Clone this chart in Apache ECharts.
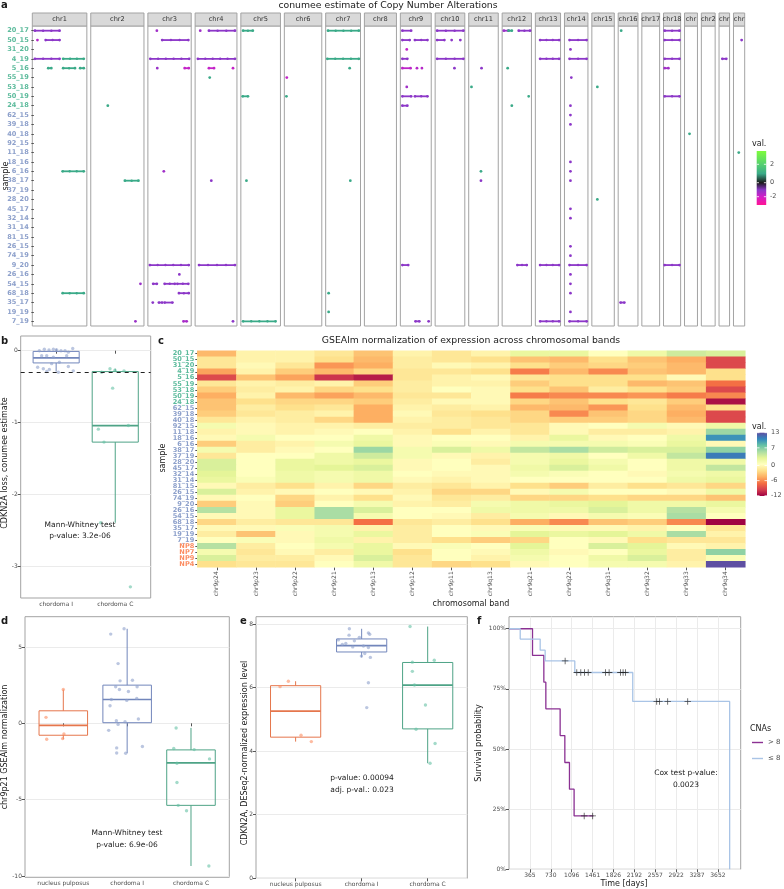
<!DOCTYPE html>
<html><head><meta charset="utf-8">
<script src="https://cdn.jsdelivr.net/npm/echarts@6/dist/echarts.min.js"></script>
<style>html,body{margin:0;padding:0;background:#fff}#chart{width:784px;height:889px}</style>
</head><body><div id="chart"></div>
<script>
const FONT = 'DejaVu Sans';
// ---------------- DATA ----------------
const cnaSamples = ['20_17','50_15','31_20','4_19','5_16','55_19','53_18','50_19','24_18','62_15','39_18','40_18','92_15','11_18','18_16','6_16','38_17','37_19','28_20','45_17','32_14','31_14','81_15','26_15','74_19','9_20','26_16','54_15','68_18','35_17','19_19','7_19'];
const npSamples = ['NP8','NP7','NP9','NP4'];
const chromosomes = ['chr1','chr2','chr3','chr4','chr5','chr6','chr7','chr8','chr9','chr10','chr11','chr12','chr13','chr14','chr15','chr16','chr17','chr18','chr19','chr20','chr21','chr22'];
const chromLenMb = [249.25,243.2,198.0,191.15,180.9,171.1,159.1,146.4,141.2,135.5,135.0,133.85,115.2,107.35,102.5,90.35,81.2,78.1,59.1,63.0,48.1,51.3];
// [chromosome, sample, start (fraction), end (fraction), value]
const cnaSegments = [
 ['chr1','20_17',0.02,0.50,-1],['chr1','50_15',0.07,0.07,-1.6],['chr1','50_15',0.23,0.50,-1],
 ['chr1','4_19',0.02,0.50,-1],['chr1','4_19',0.57,0.97,1],['chr1','5_16',0.28,0.34,1],
 ['chr1','5_16',0.57,0.80,1],['chr1','5_16',0.90,0.97,1],['chr1','6_16',0.56,0.97,1],['chr1','68_18',0.56,0.97,1],
 ['chr2','24_18',0.31,0.31,1],['chr2','38_17',0.65,0.92,1],['chr2','54_15',0.96,0.96,-1.2],['chr2','7_19',0.86,0.86,-1.2],
 ['chr3','20_17',0.19,0.19,-1.3],['chr3','50_15',0.32,0.96,-1],['chr3','4_19',0.03,0.98,-1],['chr3','5_16',0.2,0.2,-1.2],
 ['chr3','5_16',0.87,0.97,-1.8],['chr3','6_16',0.36,0.36,-1.3],['chr3','9_20',0.02,0.97,-1],['chr3','26_16',0.74,0.74,-1],
 ['chr3','54_15',0.1,0.19,-1],['chr3','54_15',0.38,0.63,-1],['chr3','54_15',0.69,0.96,-1],['chr3','68_18',0.73,0.97,-1],
 ['chr3','35_17',0.09,0.09,-1],['chr3','35_17',0.24,0.32,-1],['chr3','35_17',0.38,0.57,-1],['chr3','7_19',0.84,0.92,-1.4],
 ['chr4','20_17',0.1,0.1,-1.3],['chr4','20_17',0.32,0.98,-1],['chr4','4_19',0.04,0.98,-1],['chr4','5_16',0.32,0.45,-1.8],
 ['chr4','5_16',0.93,0.93,-1.8],['chr4','55_19',0.34,0.34,1],['chr4','38_17',0.38,0.38,-1],['chr4','9_20',0.07,0.98,-1],['chr4','7_19',0.93,0.93,-1],
 ['chr5','20_17',0.03,0.29,1],['chr5','50_19',0.02,0.16,1],['chr5','38_17',0.12,0.12,1],['chr5','7_19',0.03,0.9,1],
 ['chr6','55_19',0.04,0.04,-1.8],['chr6','50_19',0.03,0.03,1],
 ['chr7','20_17',0.04,0.98,1],['chr7','4_19',0.02,0.98,1],['chr7','5_16',0.70,0.70,1],['chr7','38_17',0.72,0.72,1],
 ['chr7','68_18',0.06,0.06,1],['chr7','19_19',0.06,0.06,1],
 ['chr9','20_17',0.04,0.34,-1],['chr9','50_15',0.04,0.29,-1],['chr9','50_15',0.47,0.90,-1],['chr9','31_20',0.19,0.19,-1.8],
 ['chr9','4_19',0.04,0.21,-1],['chr9','5_16',0.04,0.32,-1.7],['chr9','5_16',0.54,0.54,-1.6],['chr9','5_16',0.71,0.71,-1.6],
 ['chr9','53_18',0.19,0.19,-1.3],['chr9','50_19',0.04,0.34,-1],['chr9','50_19',0.47,0.90,-1],['chr9','24_18',0.04,0.21,-1],
 ['chr9','9_20',0.04,0.24,-1],['chr9','7_19',0.49,0.62,-1],['chr9','7_19',0.94,0.94,-1],
 ['chr10','20_17',0.04,0.98,-1],['chr10','50_15',0.04,0.30,-1],['chr10','50_15',0.56,0.56,-1],['chr10','50_15',0.87,0.87,-1],
 ['chr10','4_19',0.04,0.98,-1],['chr10','5_16',0.66,0.66,-1],
 ['chr11','5_16',0.43,0.43,-1],['chr11','53_18',0.07,0.07,1],['chr11','6_16',0.41,0.41,1],['chr11','38_17',0.41,0.41,-1],
 ['chr12','20_17',0.03,0.2,-1.2],['chr12','20_17',0.2,0.32,1],['chr12','20_17',0.57,0.98,-1],['chr12','5_16',0.17,0.17,1],
 ['chr12','50_19',0.93,0.93,1],['chr12','24_18',0.32,0.32,1],['chr12','9_20',0.52,0.86,-1],
 ['chr13','50_15',0.17,0.97,-1],['chr13','4_19',0.17,0.97,-1],['chr13','9_20',0.17,0.97,-1],['chr13','7_19',0.17,0.97,-1],
 ['chr14','50_15',0.2,0.97,-1],['chr14','31_20',0.24,0.24,-1],['chr14','4_19',0.2,0.97,-1],['chr14','55_19',0.28,0.28,-1],
 ['chr14','24_18',0.24,0.24,-1],['chr14','62_15',0.24,0.24,-1],['chr14','39_18',0.24,0.24,-1],['chr14','18_16',0.24,0.24,-1],
 ['chr14','6_16',0.24,0.24,-1],['chr14','38_17',0.24,0.24,-1],['chr14','45_17',0.24,0.24,-1],['chr14','32_14',0.24,0.24,-1],
 ['chr14','26_15',0.24,0.24,-1],['chr14','74_19',0.24,0.24,-1],['chr14','9_20',0.2,0.97,-1],['chr14','26_16',0.24,0.24,-1],
 ['chr14','54_15',0.24,0.24,-1],['chr14','68_18',0.24,0.24,-1],['chr14','19_19',0.24,0.24,-1],['chr14','7_19',0.2,0.97,-1],
 ['chr15','53_18',0.23,0.23,1],['chr15','28_20',0.23,0.23,1],
 ['chr16','20_17',0.13,0.13,1],['chr16','35_17',0.1,0.3,-1],
 ['chr18','20_17',0.04,0.96,-1],['chr18','50_15',0.04,0.96,-1],['chr18','4_19',0.04,0.96,-1],['chr18','5_16',0.04,0.27,-1.3],
 ['chr18','50_19',0.04,0.96,-1],['chr18','9_20',0.04,0.96,-1],
 ['chr19','40_18',0.38,0.38,1],
 ['chr21','4_19',0.3,0.7,-1],
 ['chr22','50_15',0.74,0.74,-1],['chr22','11_18',0.47,0.47,1]
];
const cnaColorStops = ['#ff1493','#d21fc8','#8c37c8','#1a1a1a','#3aaa88','#55d070','#7dfc3c'];

const bands = ['chr9p24','chr9p23','chr9p22','chr9p21','chr9p13','chr9p12','chr9p11','chr9q13','chr9q21','chr9q22','chr9q31','chr9q32','chr9q33','chr9q34'];
const heatSamples = cnaSamples.concat(npSamples);
const heatValues = [
 [-4,-0.5,-0.5,-1.5,-3.5,-0.5,-1.5,-0.5,2.5,2.5,0.5,2,4,3.5],
 [-1.5,-0.5,-0.5,-2,-4,-1,-1.5,-2,-3.5,-4,-2,-3.5,-4.5,-9],
 [-1.5,0,-1.5,-5.5,-4.5,-1,0,-0.5,-2,-3,-2.5,-3,-4,-9],
 [-5,-0.5,-3,-4,-2.5,-1.5,-1.5,-2,-6.5,-4,-6,-3.5,-4,-2],
 [-9,-3.5,-5,-10,-11,-1.5,-0.5,0,-1.5,-2,-2,-2,0,-2],
 [-1.5,-0.5,-1,-0.5,-3,-1,-0.5,-0.5,-3,-2,-2,-4,-3.5,-7],
 [-3,-1,-0.5,-2.5,-2,-1,0.5,0,-2,-3.5,-1,-2,-3,-9],
 [-4.5,-0.5,-4,-5,-4,-1.5,-1.5,0,-6.5,-6,-6,-5.5,-6.5,-6],
 [-3.5,-2,-2.5,-2.5,-3,-1,0,0,-2.5,-3.5,-2,-1.5,-3,-11.5],
 [-3.5,-1,-2,-1.5,-4.5,-0.5,-1,-0.5,-4,-4,-5.5,-2,-4,-2],
 [-3,-1.5,-1,-0.5,-4.5,0,-1.5,-2,-2.5,-6,-3.5,-2.5,-4.5,-9],
 [-1.5,-0.5,-1,-2.5,-4.5,-0.5,-1,-1.5,-2.5,-3,-3,-2.5,-4,-9],
 [1.5,0,-0.5,-0.5,-1,-1,-1,-1.5,-1.5,0,0.5,1.5,0,2],
 [-0.5,0,-0.5,0,0.5,-0.5,-2,-0.5,-1.5,0,-1,-1,-0.5,6],
 [0,1.5,0.5,0.5,2,0,0.5,0.5,-0.5,2.5,0,0.5,2,10],
 [-3,-1,-0.5,1.5,2.5,0,1,0,1.5,1.5,1.5,1,2.5,0],
 [1.5,-1,0,0.5,6,1.5,3.5,2,4.5,5.5,4,3.5,3.5,6.5],
 [-1.5,0.5,0.5,2,4,1.5,0,-0.5,1.5,2,0.5,2,4.5,11],
 [3.5,0.5,2.5,2,2.5,0,0.5,-1,1.5,2.5,1.5,0.5,2,2],
 [3.5,0.5,2.5,3,3.5,0,0.5,0,2,3.5,2,0.5,2,4.5],
 [3,0.5,2,1.5,2,0.5,0,0,1.5,1,0.5,0,1.5,2],
 [2.5,1,2,1.5,2,0,-0.5,0,0.5,0.5,0.5,0.5,2,2.5],
 [0,-1,-2,-0.5,-2.5,-1,-1.5,-0.5,-2,-3,-1,-2,-1.5,-2.5],
 [3.5,-0.5,0,0.5,0,-0.5,-2.5,-2.5,0,1.5,0.5,0.5,0,2],
 [0,0.5,-2.5,-0.5,-2,0,-1.5,-1,-2.5,-2.5,-2,-2.5,-2.5,-3.5],
 [-3,0,-3,0.5,1.5,-0.5,-1,1.5,2,2.5,3,2,2,2.5],
 [5,0,2.5,5.5,3.5,0.5,0.5,2,2,2,3.5,2,5,1.5],
 [0,0,2.5,5.5,1.5,0.5,0,-1,1.5,0,1.5,1,5.5,0.5],
 [-2.5,-1,-1.5,-1.5,-7,-1.5,-1,-2,-4.5,-6,-3.5,-3,-6,-12],
 [0,0,1,1.5,-0.5,-1,0.5,0,1,0,0,-0.5,0.5,-1.5],
 [-1,-3.5,0,1.5,2.5,-1,0.5,1,3,2.5,3,2,5.5,-0.5],
 [0.5,1,0,2,-0.5,-1,-2,-3,-2.5,0.5,0,-2,-1.5,-1.5],
 [5,-1,0.5,1.5,2.5,0,1,0.5,3,0.5,3.5,3,0,-0.5],
 [1.5,-1.5,0,-1,2.5,-2,0.5,0,2,0,0.5,2.5,-1,6.5],
 [3.5,-1,-1,0,3.5,-1.5,0.5,-0.5,1.5,0.5,2,3.5,-1,1],
 [-2,-1.5,-1.5,0.5,2,-1.5,-2.5,-2,0,0.5,1.5,1.5,-0.5,13]
];
const spectral = ['#9e0142','#d53e4f','#f46d43','#fdae61','#fee08b','#ffffbf','#e6f598','#abdda4','#66c2a5','#3288bd','#5e4fa2'];
const heatLegendTicks = [13,7,0,-6,-12];

// panel b
const bGroups = ['chordoma I','chordoma C'];
const bBoxes = [[-0.29,-0.17,-0.10,-0.01,0.03],[-2.39,-1.27,-1.04,-0.29,-0.25]]; // min,q1,med,q3,max
const bPointsI = [[0.715,0],[0.8,0.02],[0.879,0.01],[0.953,0.02],[1.01,0.01],[1.082,0],[1.15,0],[1.206,-0.02],[1.28,0.03],[0.755,-0.07],[0.84,-0.07],[0.953,-0.09],[1.178,-0.07],[0.924,-0.18],[1.054,-0.16],[0.687,-0.23],[0.783,-0.25],[0.885,-0.26],[1.206,-0.22],[0.84,-0.29],[1.037,-0.3],[1.29,-0.28]];
const bPointsC = [[1.911,-0.25],[1.995,-0.27],[1.77,-0.3],[2.148,-0.28],[1.956,-0.52],[2.222,-1.04],[1.714,-1.09],[1.81,-1.27],[1.753,-2.39],[2.256,-3.28]];
const bThreshold = -0.3;
const bTicks = [-3,-2,-1,0];

// panel d
const groups3 = ['nucleus pulposus','chordoma I','chordoma C'];
const dBoxes = [[-1.04,-0.78,-0.13,0.82,2.21],[-1.95,0.04,1.56,2.5,6.19],[-9.34,-5.37,-2.59,-1.74,-0.3]];
const dPointsNP = [[0.729,0.39],[1.0,2.21],[1.01,-0.7],[0.74,-1.04],[0.99,-1.0]];
const dPointsI = [[1.952,6.19],[1.743,5.84],[1.858,3.91],[1.889,2.78],[2.083,2.82],[1.82,2.39],[2.156,2.39],[1.879,2.21],[2.02,2.08],[1.753,1.56],[2.15,1.63],[1.994,1.5],[1.732,1.15],[1.831,0.17],[1.967,0.1],[2.176,0.28],[1.858,-0.07],[1.711,-0.46],[1.836,-1.61],[2.239,-1.52],[1.836,-1.94],[1.977,-1.96]];
const dPointsC = [[2.767,-0.31],[2.73,-1.65],[3.05,-1.72],[3.29,-2.33],[2.78,-2.61],[2.78,-3.87],[2.8,-5.37],[2.93,-5.72],[3.28,-9.34]];
const dTicks = [-10,-5,0,5];

// panel e
const eBoxes = [[4.3,4.44,5.26,6.06,6.2],[6.95,7.12,7.32,7.53,7.85],[3.62,4.7,6.08,6.79,7.92]];
const ePointsNP = [[0.89,6.2],[0.764,6.03],[1.082,4.5],[1.238,4.3]];
const ePointsI = [[1.814,7.85],[2.102,7.72],[1.809,7.65],[2.122,7.68],[1.965,7.58],[1.647,7.5],[1.89,7.47],[1.76,7.39],[1.708,7.36],[1.865,7.28],[2.027,7.31],[2.102,7.26],[2.047,7.07],[1.996,6.99],[2.132,6.95],[2.102,6.15],[2.077,5.37]];
const ePointsC = [[2.733,7.92],[2.768,6.8],[3.1,6.86],[2.768,6.51],[2.8,6.08],[2.966,5.45],[2.824,4.69],[3.112,4.24],[3.036,3.62]];
const eTicks = [0,2,4,6,8];

// panel f
const timeTicks = [365,730,1096,1461,1826,2192,2557,2922,3287,3652];
const survTicks = [0,0.25,0.5,0.75,1];
const survHigh = [[0,1],[411,0.889],[609,0.778],[644,0.667],[894,0.556],[976,0.444],[1057,0.333],[1138,0.222],[1476,0.222]];
const survLow = [[0,1],[196,0.957],[545,0.911],[632,0.866],[1150,0.818],[2163,0.698],[3857,0.698],[3857,0]];
const censorHigh = [[1314,0.222],[1463,0.222]];
const censorLow = [[981,0.866],[1185,0.818],[1255,0.818],[1320,0.818],[1384,0.818],[1686,0.818],[1750,0.818],[1947,0.818],[1994,0.818],[2035,0.818],[2582,0.698],[2629,0.698],[2774,0.698],[3124,0.698]];

// ---------------- STYLE ----------------
const COL = {np:'#fc8d62', ci:'#8da0cb', cc:'#66c2a5'};
const STROKE = {np:'#e5764c', ci:'#7286bb', cc:'#4ea386'};
function sampleColor(name){
  if (npSamples.indexOf(name) >= 0) return COL.np;
  return cnaSamples.indexOf(name) < 9 ? '#5cbb9c' : COL.ci;
}
const TXT = '#1a1a1a', TICKTXT = '#4d4d4d', FRAME = '#a3a3a3', GRIDC = '#ebebeb';

const grids = [], xAxes = [], yAxes = [], series = [], graphics = [];
function txt(x, y, text, size, opt) {
  opt = opt || {};
  graphics.push({type:'text', x:x, y:y, rotation: opt.rot || 0, z:100,
    style:{text:text, fontSize:size, fontFamily:FONT, fontWeight: opt.bold ? 'bold':'normal', fill: opt.color || TXT,
      align: opt.align || 'center', textAlign: opt.align || 'center', verticalAlign: opt.va || 'middle', textVerticalAlign: opt.va || 'middle'}});
}

// ---------------- PANEL a ----------------
const A_X0 = 32.3, A_X1 = 744.7, A_GAP = 3.9, A_TOP = 26, A_H = 300;
const totalLen = chromLenMb.reduce((a, b) => a + b, 0);
const pxPerMb = (A_X1 - A_X0 - A_GAP * (chromosomes.length - 1)) / totalLen;
let cur = A_X0;
function segRender(params, api) {
  const s = api.coord([api.value(0), api.value(2)]);
  const e = api.coord([api.value(1), api.value(2)]);
  const color = api.visual('color');
  const ch = [];
  if (e[0] - s[0] > 0.5) ch.push({type:'line', shape:{x1:s[0], y1:s[1], x2:e[0], y2:e[1]}, style:{stroke:color, lineWidth:1.8}});
  ch.push({type:'circle', shape:{cx:s[0], cy:s[1], r:1.4}, style:{fill:color}});
  if (e[0] - s[0] > 0.5) {
    ch.push({type:'circle', shape:{cx:e[0], cy:e[1], r:1.4}, style:{fill:color}});
    const n = Math.floor((e[0]-s[0]) / 9);
    for (let k = 1; k <= n; k++) {
      const xx = s[0] + (e[0]-s[0]) * k / (n + 1);
      ch.push({type:'circle', shape:{cx:xx, cy:s[1], r:1.2}, style:{fill:color}});
    }
  }
  return {type:'group', children: ch};
}
chromosomes.forEach((chr, i) => {
  const w = chromLenMb[i] * pxPerMb;
  grids.push({left:cur, top:A_TOP, width:w, height:A_H, show:true, borderColor:FRAME, borderWidth:1, backgroundColor:'#fff'});
  xAxes.push({type:'value', gridIndex:i, min:-0.03, max:1.03, show:false});
  yAxes.push({type:'category', gridIndex:i, data:cnaSamples, inverse:true, show: i === 0,
    axisLine:{show:false}, splitLine:{show:false},
    axisTick:{show:true, alignWithLabel:true, length:2.5, lineStyle:{color:'#555'}},
    axisLabel:{show:true, interval:0, fontSize:6.6, fontWeight:'bold', fontFamily:FONT, margin:3.5, color:(v) => sampleColor(v)}});
  series.push({type:'custom', xAxisIndex:i, yAxisIndex:i, clip:false, silent:true,
    encode:{x:[0,1], y:2},
    data: cnaSegments.filter(s => s[0] === chr).map(s => [s[2], s[3], s[1], s[4]]),
    renderItem: segRender});
  graphics.push({type:'rect', shape:{x:cur, y:13, width:w, height:13}, style:{fill:'#d9d9d9', stroke:FRAME, lineWidth:1}, z:90});
  graphics.push({type:'text', x:cur + w/2, y:19.5, z:100,
    style:{text:chr, fontSize:6.6, fontFamily:FONT, fill:'#333', align:'center', textAlign:'center', verticalAlign:'middle', textVerticalAlign:'middle', width:w + 3, overflow:'truncate', ellipsis:''}});
  cur += w + A_GAP;
});
txt(1, 5, 'a', 10, {bold:true, align:'left'});
txt(388, 6, 'conumee estimate of Copy Number Alterations', 9.3);
txt(6, 176, 'sample', 8, {rot: Math.PI/2});
// legend a
txt(752, 144, 'val.', 8, {align:'left'});
graphics.push({type:'rect', shape:{x:756.7, y:151, width:9.5, height:54}, z:95, style:{fill:{type:'linear', x:0, y:0, x2:0, y2:1, colorStops:[
  {offset:0, color:cnaColorStops[6]},{offset:0.246, color:cnaColorStops[5]},{offset:0.42, color:cnaColorStops[4]},
  {offset:0.587, color:cnaColorStops[3]},{offset:0.72, color:cnaColorStops[2]},{offset:0.846, color:cnaColorStops[1]},{offset:1, color:cnaColorStops[0]}]}}});
[[2,164.3],[0,182.7],[-2,196.7]].forEach(t => {
  txt(770, t[1], String(t[0]), 6.5, {align:'left', color:TICKTXT});
  graphics.push({type:'line', z:96, shape:{x1:756.7, y1:t[1], x2:759, y2:t[1]}, style:{stroke:'#fff', lineWidth:0.8}});
  graphics.push({type:'line', z:96, shape:{x1:763.9, y1:t[1], x2:766.2, y2:t[1]}, style:{stroke:'#fff', lineWidth:0.8}});
});

// ---------------- helpers for box panels ----------------
function catXAxis(gi, cats) {
  const vals = cats.map((c, i) => i + 1);
  return {type:'value', gridIndex:gi, min:0.4, max:cats.length + 0.6,
    axisLine:{show:false}, splitLine:{show:false},
    axisTick:{show:true, customValues:vals, length:3, lineStyle:{color:'#555'}},
    axisLabel:{customValues:vals, formatter:(v) => cats[Math.round(v) - 1] || '', fontSize:6, color:TICKTXT, fontFamily:FONT, margin:3}};
}
function valYAxis(gi, min, max, ticks, fmt) {
  return {type:'value', gridIndex:gi, min:min, max:max,
    axisLine:{show:false},
    splitLine:{show:true, lineStyle:{color:GRIDC, width:1}},
    axisTick:{show:true, customValues:ticks, length:3, lineStyle:{color:'#555'}},
    axisLabel:{customValues:ticks, formatter: fmt || ((v) => String(v)), fontSize:6, color:TICKTXT, fontFamily:FONT, margin:3}};
}
function boxSeries(gi, boxes, colors, width) {
  return {type:'custom', xAxisIndex:gi, yAxisIndex:gi, z:2, silent:true,
    data: boxes.map((b, i) => [i + 1].concat(b)),
    encode:{x:0, y:[1,2,3,4,5]},
    renderItem:(params, api) => {
      const x = api.value(0), c = colors[params.dataIndex];
      const p = (v) => api.coord([x, v]);
      const left = api.coord([x - width/2, 0])[0], right = api.coord([x + width/2, 0])[0];
      const pMin = p(api.value(1)), pQ1 = p(api.value(2)), pMed = p(api.value(3)), pQ3 = p(api.value(4)), pMax = p(api.value(5));
      return {type:'group', children:[
        {type:'line', shape:{x1:pMin[0], y1:pMin[1], x2:pQ1[0], y2:pQ1[1]}, style:{stroke:c, lineWidth:1}},
        {type:'line', shape:{x1:pQ3[0], y1:pQ3[1], x2:pMax[0], y2:pMax[1]}, style:{stroke:c, lineWidth:1}},
        {type:'rect', shape:{x:left, y:pQ3[1], width:right - left, height:pQ1[1] - pQ3[1]}, style:{fill:'none', stroke:c, lineWidth:1}},
        {type:'line', shape:{x1:left, y1:pMed[1], x2:right, y2:pMed[1]}, style:{stroke:c, lineWidth:1.7}}
      ]};
    }};
}
function pointSeries(gi, pts, color, extra) {
  return Object.assign({type:'scatter', xAxisIndex:gi, yAxisIndex:gi, data:pts, symbolSize:3.4, silent:true,
    itemStyle:{color:color, opacity:0.6}, z:3}, extra || {});
}

// ---------------- PANEL b ----------------
const GB = grids.length;
grids.push({left:20.7, top:336, width:130, height:262, show:true, borderColor:FRAME, borderWidth:1});
xAxes.push(catXAxis(GB, bGroups));
yAxes.push(valYAxis(GB, -3.435, 0.204, bTicks));

// ---------------- PANEL c ----------------
const GC = grids.length;
grids.push({left:197.3, top:350.7, width:548, height:216.6, show:false});
xAxes.push({type:'category', gridIndex:GC, data:bands, axisLine:{show:false}, splitLine:{show:false},
  axisTick:{show:true, alignWithLabel:true, length:3, lineStyle:{color:'#555'}},
  axisLabel:{interval:0, rotate:90, fontSize:6, color:TICKTXT, fontFamily:FONT, margin:4}});
yAxes.push({type:'category', gridIndex:GC, data:heatSamples, inverse:true, axisLine:{show:false}, splitLine:{show:false},
  axisTick:{show:true, alignWithLabel:true, length:2, lineStyle:{color:'#555'}},
  axisLabel:{interval:0, fontSize:6.6, fontWeight:'bold', fontFamily:FONT, margin:3, color:(v) => sampleColor(v)}});

// ---------------- PANEL d ----------------
const GD = grids.length;
grids.push({left:25, top:616.7, width:204.3, height:260.6, show:true, borderColor:FRAME, borderWidth:1});
xAxes.push(catXAxis(GD, groups3));
yAxes.push(valYAxis(GD, -10.08, 6.98, dTicks));

// ---------------- PANEL e ----------------
const GE = grids.length;
grids.push({left:256, top:616.7, width:211.3, height:261.6, show:true, borderColor:FRAME, borderWidth:1});
xAxes.push(catXAxis(GE, groups3));
yAxes.push(valYAxis(GE, 0, 8.23, eTicks));

// ---------------- PANEL f ----------------
const GF = grids.length;
grids.push({left:509, top:616.7, width:231.7, height:252.6, show:true, borderColor:FRAME, borderWidth:1});
xAxes.push({type:'value', gridIndex:GF, min:0, max:4050, axisLine:{show:false},
  splitLine:{show:true, lineStyle:{color:GRIDC}},
  axisTick:{show:true, customValues:timeTicks, length:3, lineStyle:{color:'#555'}},
  axisLabel:{customValues:timeTicks, formatter:(v) => String(Math.round(v)), fontSize:6, color:TICKTXT, fontFamily:FONT, margin:3}});
yAxes.push(valYAxis(GF, 0, 1.05, survTicks, (v) => Math.round(v * 100) + '%'));

// ---------------- SERIES ----------------
const heatIndex = series.length;
const heatData = [];
heatValues.forEach((row, r) => row.forEach((v, c) => heatData.push([c, r, v])));
series.push({type:'heatmap', xAxisIndex:GC, yAxisIndex:GC, data:heatData, silent:true, itemStyle:{borderWidth:0}});

series.push(boxSeries(GB, bBoxes, [STROKE.ci, STROKE.cc], 0.78));
series.push(pointSeries(GB, bPointsI, COL.ci, {markLine:{silent:true, symbol:'none', label:{show:false},
  lineStyle:{type:[4,4], color:'#222', width:1}, data:[{yAxis:bThreshold}]}}));
series.push(pointSeries(GB, bPointsC, COL.cc));

series.push(boxSeries(GD, dBoxes, [STROKE.np, STROKE.ci, STROKE.cc], 0.76));
series.push(pointSeries(GD, dPointsNP, COL.np));
series.push(pointSeries(GD, dPointsI, COL.ci));
series.push(pointSeries(GD, dPointsC, COL.cc));

series.push(boxSeries(GE, eBoxes, [STROKE.np, STROKE.ci, STROKE.cc], 0.76));
series.push(pointSeries(GE, ePointsNP, COL.np));
series.push(pointSeries(GE, ePointsI, COL.ci));
series.push(pointSeries(GE, ePointsC, COL.cc));

const HIGH = '#8b3193', LOW = '#a9c4e6';
series.push({type:'line', name:'> 8', xAxisIndex:GF, yAxisIndex:GF, data:survHigh, step:'end', symbol:'none', showSymbol:false,
  lineStyle:{color:HIGH, width:1.3}, itemStyle:{color:HIGH}, z:3, silent:true});
series.push({type:'line', name:'\u2264 8', xAxisIndex:GF, yAxisIndex:GF, data:survLow, step:'end', symbol:'none', showSymbol:false,
  lineStyle:{color:LOW, width:1.3}, itemStyle:{color:LOW}, z:4, silent:true});
const plusPath = 'path://M4.4,0h1.2v4.4h4.4v1.2h-4.4v4.4h-1.2v-4.4h-4.4v-1.2h4.4z';
series.push({type:'scatter', xAxisIndex:GF, yAxisIndex:GF, data:censorHigh, symbol:plusPath, symbolSize:6.5, itemStyle:{color:'#222'}, z:5, silent:true});
series.push({type:'scatter', xAxisIndex:GF, yAxisIndex:GF, data:censorLow, symbol:plusPath, symbolSize:6.5, itemStyle:{color:'#222'}, z:5, silent:true});

// ---------------- TEXTS ----------------
txt(1, 341, 'b', 10, {bold:true, align:'left'});
txt(158, 341, 'c', 10, {bold:true, align:'left'});
txt(471, 341, 'GSEAlm normalization of expression across chromosomal bands', 9.3);
txt(5, 463, 'CDKN2A loss, conumee estimate', 8, {rot:Math.PI/2});
txt(80, 525, 'Mann-Whitney test', 7.5);
txt(80, 536.5, 'p-value: 3.2e-06', 7.5);
txt(163, 458, 'sample', 8, {rot:Math.PI/2});
txt(471, 604, 'chromosomal band', 8);
// legend c
txt(752, 427, 'val.', 8, {align:'left'});
const HL_TOP = 432.7, HL_H = 63.3, HL_MIN = -12.1, HL_MAX = 13;
graphics.push({type:'rect', shape:{x:757, y:HL_TOP, width:10, height:HL_H}, z:95, style:{fill:{type:'linear', x:0, y:0, x2:0, y2:1,
  colorStops: spectral.slice().reverse().map((c, i) => ({offset:i / (spectral.length - 1), color:c}))}}});
heatLegendTicks.forEach(v => {
  const y = HL_TOP + (HL_MAX - v) / (HL_MAX - HL_MIN) * HL_H;
  txt(771, y, String(v), 6.5, {align:'left', color:TICKTXT});
  graphics.push({type:'line', z:96, shape:{x1:757, y1:y, x2:759.5, y2:y}, style:{stroke:'#fff', lineWidth:0.8}});
  graphics.push({type:'line', z:96, shape:{x1:764.5, y1:y, x2:767, y2:y}, style:{stroke:'#fff', lineWidth:0.8}});
});

txt(1, 621, 'd', 10, {bold:true, align:'left'});
txt(240, 621, 'e', 10, {bold:true, align:'left'});
txt(477, 621, 'f', 10, {bold:true, align:'left'});
txt(5, 747, 'chr9p21 GSEAlm normalization', 8, {rot:Math.PI/2});
txt(127, 833.5, 'Mann-Whitney test', 7.5);
txt(127, 845.5, 'p-value: 6.9e-06', 7.5);
txt(245, 753, 'CDKN2A, DESeq2-normalized expression level', 8, {rot:Math.PI/2});
txt(362, 778.5, 'p-value: 0.00094', 7.5);
txt(362, 790, 'adj. p-val.: 0.023', 7.5);
txt(479, 743, 'Survival probability', 8, {rot:Math.PI/2});
txt(686, 773.5, 'Cox test p-value:', 7.5);
txt(686, 785, '0.0023', 7.5);
txt(624, 884, 'Time [days]', 8);
txt(750, 729, 'CNAs', 8, {align:'left'});

const option = {
  animation:false,
  backgroundColor:'#ffffff',
  textStyle:{fontFamily:FONT},
  grid:grids, xAxis:xAxes, yAxis:yAxes, series:series,
  visualMap:[
    {type:'continuous', show:false, seriesIndex:chromosomes.map((c, i) => i), dimension:3, min:-3, max:3, inRange:{color:cnaColorStops}},
    {type:'continuous', show:false, seriesIndex:heatIndex, dimension:2, min:HL_MIN, max:HL_MAX, inRange:{color:spectral}}
  ],
  legend:{data:['> 8','\u2264 8'], orient:'vertical', left:752, top:739, padding:0, icon:'rect', itemWidth:11, itemHeight:1.4, itemGap:9,
    textStyle:{fontSize:7, color:TICKTXT, fontFamily:FONT}, selectedMode:false},
  graphic:graphics
};
const chart = echarts.init(document.getElementById('chart'), null, {renderer:'canvas'});
chart.setOption(option);
</script></body></html>
